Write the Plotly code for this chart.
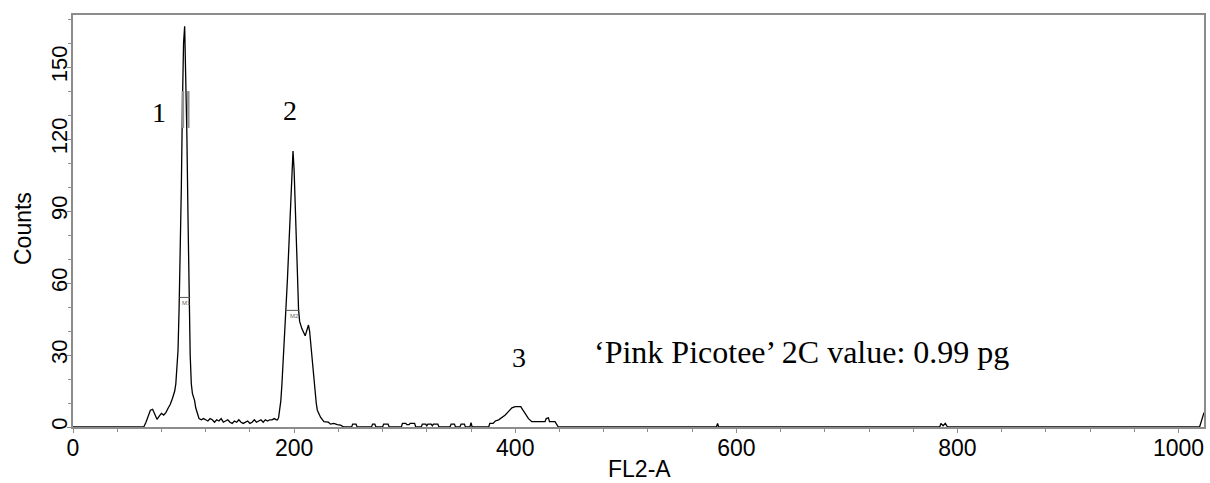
import plotly.graph_objects as go

# ---------------- data ----------------
channel = [0, 64, 66, 68, 70, 72, 74, 76, 78, 80, 82, 84, 86, 88, 90, 92, 93, 94, 95, 96, 97, 98, 99, 100, 101,
           102, 103, 104, 105, 106, 107, 108, 110, 111, 113, 114, 116, 118, 120, 122, 124, 126, 128, 130, 132,
           134, 136, 138, 140, 142, 144, 146, 148, 150, 152, 154, 156, 158, 160, 162, 164, 166, 168, 170, 172,
           174, 176, 178, 180, 182, 184, 185, 186, 187, 188, 189, 190, 191, 192, 193, 194, 195, 196, 197, 198,
           199, 200, 201, 202, 203, 204, 205, 207, 209, 210, 211, 212, 213, 214, 215, 216, 217, 218, 219, 220,
           221, 222, 224, 227, 231, 233, 236, 239, 242, 245,
           252, 253, 256, 257, 270, 271, 273, 274, 280, 281, 285, 286,
           297, 298, 301, 302, 304, 305, 309, 310, 315, 316, 319, 320, 321, 324, 325, 326, 330, 331,
           341, 342, 345, 346, 350, 351, 354, 355, 359, 360, 361,
           376, 377, 380, 382, 385, 388, 391, 394, 397, 400, 403, 405, 407, 409, 412, 415, 427, 428, 430, 431,
           436, 439, 582, 583, 584, 784, 785, 787, 789, 791, 1019, 1023]
counts = [0, 0, 2, 5, 7, 7.4, 5, 3.2, 4.5, 5.7, 5, 6, 7.8, 9.5, 12, 15, 18, 24, 32, 50, 70, 100, 135, 160, 167,
          148, 122, 88, 56, 30, 18, 14, 11, 8, 5, 3.5, 3, 3.5, 3, 2.5, 3.5, 3, 2, 3, 2.5,
          3.5, 2, 2.5, 3, 2, 1.5, 2.5, 2, 3, 2, 1.5, 2, 2.5, 1.5, 2, 3, 2, 2.5, 3, 2,
          3, 2.5, 3, 3, 3.5, 3, 3, 4, 7, 11, 18, 28, 39, 45, 53, 62, 74, 86, 97, 106,
          115, 107, 95, 80, 64, 49, 44, 41, 38.5, 38, 39.5, 41.5, 42.5, 40, 35, 30.8, 24, 18, 14, 10,
          7, 5.7, 4, 2.2, 2, 1.2, 1.5, 1, 0.8, 0,
          0, 1.2, 1.2, 0, 0, 1.2, 1.2, 0, 0, 1.2, 1.2, 0,
          0, 1.5, 1.5, 1, 1, 1.5, 1.5, 0, 0, 1.2, 1.2, 0.5, 1.2, 1.2, 0.5, 1.2, 1.2, 0,
          0, 1.2, 1.2, 0, 0, 1.2, 1.2, 0, 0, 1.8, 0,
          0, 1.5, 1.5, 2.5, 3, 4, 5, 6.5, 8, 8.5, 8.5, 8.5, 7, 5.7, 3.5, 2.2, 2.2, 3.5, 3.8, 2.2,
          2.2, 0, 0, 1.5, 0, 0, 1.5, 0.5, 1.5, 0, 0, 6]

peak_labels = ["1", "2", "3"]
peak_label_x = [78, 196, 403]
peak_label_y = [131, 132, 29]

marker_names = ["M1", "M2"]
marker_x0 = [96.3, 192.4]
marker_x1 = [106.0, 204.5]
marker_level = [54, 48.6]

note_text = "\u2018Pink Picotee\u2019 2C value: 0.99 pg"

x_ticks = [0, 200, 400, 600, 800, 1000]
y_ticks = [0, 30, 60, 90, 120, 150]
x_range = [0, 1023]
y_range = [0, 171.7]

# ---------------- figure ----------------
W, H = 1210, 483
L, R, T, B = 73, 6, 15, 56
pw, ph = W - L - R, H - T - B


def px(xp):
    return (xp - L) / pw


def py(yp):
    return (H - B - yp) / ph


fig = go.Figure()
fig.add_trace(go.Scatter(x=channel, y=counts, mode="lines",
                         line=dict(color="black", width=1.3), hoverinfo="skip", showlegend=False))

axis_col = "#8c8c8c"
fig.update_layout(
    width=W, height=H, margin=dict(l=L, r=R, t=T, b=B),
    paper_bgcolor="white", plot_bgcolor="white",
    xaxis=dict(range=x_range, tickvals=x_ticks, ticks="outside", ticklen=4, tickcolor=axis_col,
               showline=True, linecolor=axis_col, linewidth=1.5, mirror=True, showgrid=False, zeroline=False,
               tickfont=dict(family="Liberation Sans, Arial", size=23, color="black"), automargin=False,
               ticklabelstandoff=-4,
               minor=dict(dtick=40, ticks="outside", ticklen=3, tickcolor=axis_col)),
    yaxis=dict(range=y_range, tickvals=y_ticks, ticks="outside", ticklen=4, tickcolor=axis_col, tickangle=-90,
               showline=True, linecolor=axis_col, linewidth=1.5, mirror=True, showgrid=False, zeroline=False,
               tickfont=dict(family="Liberation Sans, Arial", size=22, color="black"), automargin=False,
               ticklabelstandoff=-9,
               minor=dict(dtick=10, ticks="outside", ticklen=3, tickcolor=axis_col)),
)

# axis titles
fig.add_annotation(text="Counts", xref="paper", yref="paper", x=px(23), y=py(229), showarrow=False,
                   xanchor="center", yanchor="middle", textangle=-90,
                   font=dict(family="Liberation Sans, Arial", size=23, color="black"))
fig.add_annotation(text="FL2-A", xref="paper", yref="paper", x=px(639), y=py(469), showarrow=False,
                   xanchor="center", yanchor="middle",
                   font=dict(family="Liberation Sans, Arial", size=23, color="black"))

# peak numbers
for t, xv, yv in zip(peak_labels, peak_label_x, peak_label_y):
    fig.add_annotation(text=t, x=xv, y=yv, showarrow=False, xanchor="center", yanchor="middle",
                       font=dict(family="Liberation Serif, Times New Roman", size=28, color="black"))

# note
fig.add_annotation(text=note_text, xref="paper", yref="paper", x=px(592), y=py(352), xanchor="left",
                   yanchor="middle", showarrow=False,
                   font=dict(family="Liberation Serif, Times New Roman", size=32, color="black"))

# marker bars
for name, a, b, lv in zip(marker_names, marker_x0, marker_x1, marker_level):
    fig.add_shape(type="line", x0=a, x1=b, y0=lv, y1=lv, line=dict(color="#555555", width=1))
    fig.add_annotation(text=name, x=(a + b) / 2 + 1.5, y=lv - 2.5, showarrow=False,
                       font=dict(family="Liberation Sans, Arial", size=6, color="#666666"))

# grey marks on peak 1 flanks
fig.add_shape(type="line", x0=99.4, x1=99.4, y0=124.6, y1=140, line=dict(color="#909090", width=2.5))
fig.add_shape(type="line", x0=104.3, x1=104.3, y0=124.6, y1=140, line=dict(color="#909090", width=2.5))

fig.write_html("out.html", config={"displayModeBar": False},
               post_script="document.body.style.margin='0';document.body.style.padding='0';"
                           "document.body.style.overflow='hidden';")
